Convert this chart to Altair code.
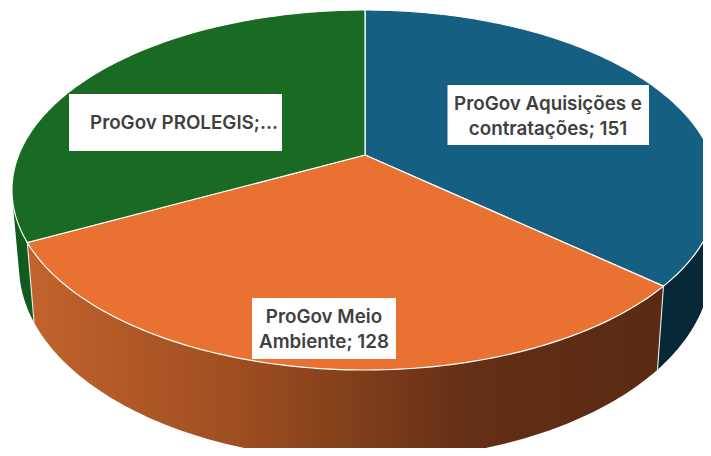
import math
import altair as alt

# values (the third label is truncated: its value is estimated)
names = ["Aquisições", "Meio Ambiente", "PROLEGIS"]
values = [151, 128, 135]
labels = ["ProGov Aquisições e\ncontratações; 151", "ProGov Meio\nAmbiente; 128", "ProGov PROLEGIS;..."]
face_colors = ["#156082", "#E97132", "#196B24"]

# perspective pie model, in chart pixels
OFF = 8
CX, CY = 365 - OFF, 155 - OFF
A, B, K = 346.3, 173.2, 0.1945
SX, SY, Y0 = 0.98, 1.08, 228 - OFF


def top(theta):
    s, c = math.sin(theta), math.cos(theta)
    w = 1 + K * c
    return [CX + A * s / w, CY - B * c / w]


def low(theta):
    x, y = top(theta)
    return [CX + SX * (x - CX), Y0 + SY * (y - CY)]


def arc(fn, t0, t1):
    n = max(2, int(abs(t1 - t0) / math.radians(1)))
    return [fn(t0 + (t1 - t0) * i / n) for i in range(n + 1)]


def feature(kind, coords, name):
    return {"type": "Feature", "properties": {"name": name},
            "geometry": {"type": kind, "coordinates": coords}}


total = sum(values)
edges = [0.0]
for v in values:
    edges.append(edges[-1] + 2 * math.pi * v / total)

faces = []
for i, n in enumerate(names):
    ring = [[CX, CY]] + arc(top, edges[i], edges[i + 1]) + [[CX, CY]]
    faces.append(feature("Polygon", [ring], n))


def side(t0, t1, name):
    ring = arc(top, t0, t1) + arc(low, t1, t0)
    ring.append(ring[0])
    return feature("Polygon", [ring], name)


def signed_area(ring):
    return sum(p[0] * q[1] - q[0] * p[1] for p, q in zip(ring, ring[1:]))


def swept_side(t0, t1, name):
    """Side wall as one multipolygon of same-wound quads, so it fills the hull of both rims."""
    tops, lows = arc(top, t0, t1), arc(low, t0, t1)
    polys = []
    for i in range(len(tops) - 1):
        ring = [tops[i], tops[i + 1], lows[i + 1], lows[i], tops[i]]
        if signed_area(ring) < 0:
            ring = ring[::-1]
        polys.append([ring])
    return feature("MultiPolygon", polys, name)


proj = alt.Projection(type="identity", scale=1, translate=[0, 0])


def shape(feats, **kw):
    return alt.Chart(alt.Data(values=feats)).mark_geoshape(clip=True, **kw).project(**proj.to_dict())


blue_side = shape([swept_side(math.radians(60), edges[1], "a")], fill="#062837", stroke=None)
green_side = shape([swept_side(edges[2], math.radians(300), "c")], fill="#125B1F", stroke=None)
orange_side = shape(
    [side(edges[1], edges[2], "b")],
    fill=alt.Gradient(
        gradient="linear", x1=0, x2=1, y1=0, y2=0,
        stops=[
            alt.GradientStop(offset=0.0, color="#c2632c"),
            alt.GradientStop(offset=0.33, color="#9e4e20"),
            alt.GradientStop(offset=0.70, color="#632f15"),
            alt.GradientStop(offset=1.0, color="#5a2a13"),
        ],
    ),
    stroke=None,
)
face_layer = (
    alt.Chart(alt.Data(values=faces))
    .mark_geoshape(clip=True, stroke="#ffffff", strokeWidth=1.2)
    .project(**proj.to_dict())
    .encode(
        fill=alt.Color("properties.name:N", scale=alt.Scale(domain=names, range=face_colors), legend=None)
    )
)
corners = shape(
    [feature("LineString", [top(e), low(e)], "e") for e in edges[1:3]],
    filled=False, stroke="#e8e8e8", strokeWidth=1.1,
)

boxes = [(447.5, 649, 85, 145), (252, 396, 298, 359), (69, 282, 94, 151)]
text_anchor = [(548, 104), (324, 317), (184, 123)]

layers = [green_side, blue_side, orange_side, corners, face_layer]
for lab, (x0, x1, y0, y1), (tx, ty) in zip(labels, boxes, text_anchor):
    row = alt.Data(values=[{"label": lab}])
    layers.append(
        alt.Chart(row).mark_rect(color="#ffffff").encode(
            x=alt.value(x0 - OFF), x2=alt.value(x1 - OFF), y=alt.value(y0 - OFF), y2=alt.value(y1 - OFF)
        )
    )
    layers.append(
        alt.Chart(row)
        .mark_text(font="Inter", fontSize=18.8, fontWeight=600, color="#404040", lineBreak="\n",
                   lineHeight=25, align="center", baseline="middle")
        .encode(x=alt.value(tx - OFF), y=alt.value(ty - OFF), text="label:N")
    )

chart = (
    alt.layer(*layers)
    .properties(width=695, height=440, padding=0, autosize=alt.AutoSizeParams(type="none"), background="#ffffff")
    .configure_view(stroke=None)
)
chart.save("out.html", embed_options={"renderer": "svg", "actions": False})
